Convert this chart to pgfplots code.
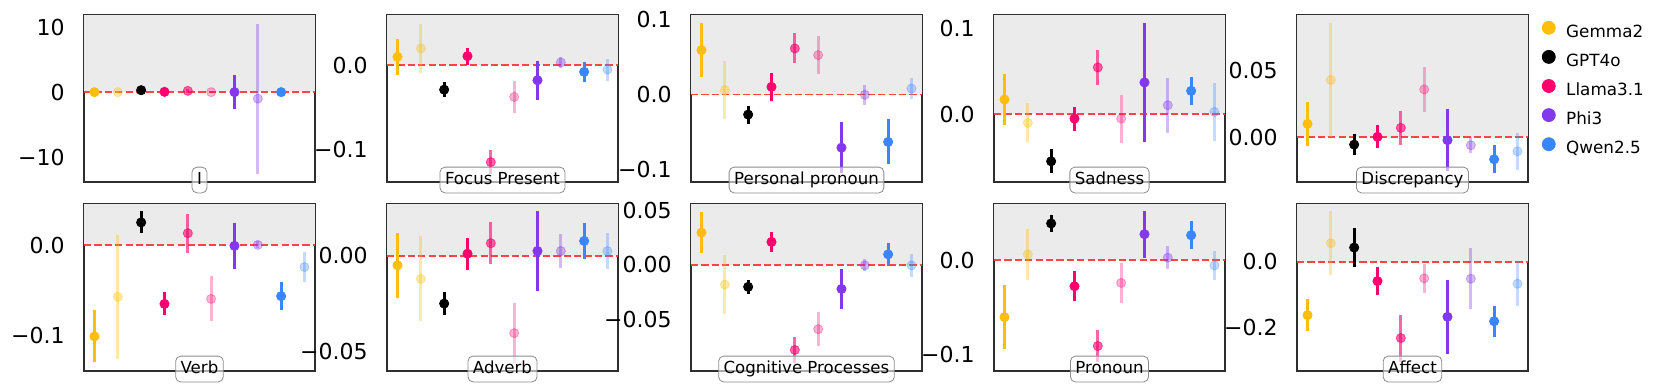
\documentclass[border=0pt]{standalone}
\usepackage{pgfplots}
\pgfplotsset{compat=1.18}
\usepackage{fontspec}
\setmainfont{DejaVu Sans}

\definecolor{gemma}{HTML}{FFBE0B}
\definecolor{gpt}{HTML}{000000}
\definecolor{llama}{HTML}{FF006E}
\definecolor{phi}{HTML}{8338EC}
\definecolor{qwen}{HTML}{3A86FF}
\definecolor{bggray}{HTML}{EBEBEB}
\definecolor{zeroline}{HTML}{FF4545}

\pgfplotsset{
  panel/.style={
    scale only axis, width=115.5pt, height=83.5pt, anchor=south west,
    xmin=-0.45, xmax=9.45, xtick=\empty,
    axis line style={line width=1.25pt, black!82},
    major tick length=0pt, scaled y ticks=false,
    yticklabel style={font=\fontsize{11}{13}\selectfont, inner sep=0pt, xshift=-9.5pt},
  },
  dot/.style 2 args={
    forget plot, only marks, mark=*, mark size=2.3pt, color=#1, opacity=#2,
    error bars/y dir=both, error bars/y explicit, error bars/error mark=none,
    error bars/error bar style={line width=1.4pt, color=#1, opacity=#2},
  },
}
\tikzset{lbl/.style={draw=black!45, rounded corners=2.5pt, fill=white, fill opacity=0.6,
  text opacity=1, inner xsep=2.5pt, inner ysep=2.6pt, text height=6.1pt, text depth=1.6pt,
  font=\fontsize{8.3}{10}\selectfont, yshift=1pt}}
\newcommand{\zero}{%
  \fill[bggray] (axis cs:-0.45,0) rectangle (rel axis cs:1,1);
  \draw[zeroline, line width=0.9pt, dash pattern=on 3.6pt off 1.6pt]
    (axis cs:-0.45,0) -- (axis cs:9.45,0);}

\begin{document}
\begin{tikzpicture}
\useasboundingbox (0,0) rectangle (830pt,193.5pt);

% ---------- top row ----------
\begin{axis}[panel, name=p1, at={(42pt,102.5pt)}, ymin=-13.8, ymax=11.85,
  ytick={-10,0,10}, yticklabels={−10,0,10}]
\zero
\addplot[dot={gemma}{1}]    coordinates {(0,0) +- (0,0.2)};
\addplot[dot={gemma}{0.35}] coordinates {(1,0) +- (0,0.2)};
\addplot[dot={gpt}{1}]      coordinates {(2,0.3) +- (0,0.2)};
\addplot[dot={llama}{1}]    coordinates {(3,0.05) +- (0,0.2)};
\addplot[dot={llama}{0.6}]  coordinates {(4,0.2) +- (0,0.3)};
\addplot[dot={llama}{0.3}]  coordinates {(5,0) +- (0,0.2)};
\addplot[dot={phi}{1}]      coordinates {(6,0) +- (0,2.6)};
\addplot[dot={phi}{0.35}]   coordinates {(7,-1.0) +- (0,11.5)};
\addplot[dot={qwen}{1}]     coordinates {(8,0) +- (0,0.2)};
\end{axis}
\node[lbl] at (p1.south) {I};

\begin{axis}[panel, name=p2, at={(193.5pt,102.5pt)}, ymin=-0.138, ymax=0.0593,
  ytick={-0.1,0}, yticklabels={−0.1,0.0}]
\zero
\addplot[dot={gemma}{1}]    coordinates {(0,0.0099) +- (0,0.021)};
\addplot[dot={gemma}{0.35}] coordinates {(1,0.0198) +- (0,0.029)};
\addplot[dot={gpt}{1}]      coordinates {(2,-0.0289) +- (0,0.009)};
\addplot[dot={llama}{1}]    coordinates {(3,0.0107) +- (0,0.010)};
\addplot[dot={llama}{0.6}]  coordinates {(4,-0.1146) +- (0,0.014)};
\addplot[dot={llama}{0.3}]  coordinates {(5,-0.0375) +- (0,0.019)};
\addplot[dot={phi}{1}]      coordinates {(6,-0.0178) +- (0,0.023)};
\addplot[dot={phi}{0.35}]   coordinates {(7,0.0032) +- (0,0.007)};
\addplot[dot={qwen}{1}]     coordinates {(8,-0.0079) +- (0,0.012)};
\addplot[dot={qwen}{0.3}]   coordinates {(9,-0.0051) +- (0,0.013)};
\end{axis}
\node[lbl] at (p2.south) {Focus Present};

\begin{axis}[panel, name=p3, at={(345.5pt,102.5pt)}, ymin=-0.1164, ymax=0.1058,
  ytick={-0.1,0,0.1}, yticklabels={−0.1,0.0,0.1}]
\zero
\addplot[dot={gemma}{1}]    coordinates {(0,0.0591) +- (0,0.036)};
\addplot[dot={gemma}{0.35}] coordinates {(1,0.0058) +- (0,0.039)};
\addplot[dot={gpt}{1}]      coordinates {(2,-0.0267) +- (0,0.012)};
\addplot[dot={llama}{1}]    coordinates {(3,0.0102) +- (0,0.019)};
\addplot[dot={llama}{0.6}]  coordinates {(4,0.0613) +- (0,0.020)};
\addplot[dot={llama}{0.3}]  coordinates {(5,0.0524) +- (0,0.025)};
\addplot[dot={phi}{1}]      coordinates {(6,-0.0707) +- (0,0.034)};
\addplot[dot={phi}{0.35}]   coordinates {(7,-0.0004) +- (0,0.013)};
\addplot[dot={qwen}{1}]     coordinates {(8,-0.0631) +- (0,0.030)};
\addplot[dot={qwen}{0.3}]   coordinates {(9,0.0080) +- (0,0.014)};
\end{axis}
\node[lbl] at (p3.south) {Personal pronoun};

\begin{axis}[panel, name=p4, at={(497pt,102.5pt)}, ymin=-0.079, ymax=0.1156,
  ytick={0,0.1}, yticklabels={0.0,0.1}]
\zero
\addplot[dot={gemma}{1}]    coordinates {(0,0.0171) +- (0,0.030)};
\addplot[dot={gemma}{0.35}] coordinates {(1,-0.0101) +- (0,0.0226)};
\addplot[dot={gpt}{1}]      coordinates {(2,-0.0549) +- (0,0.014)};
\addplot[dot={llama}{1}]    coordinates {(3,-0.0051) +- (0,0.014)};
\addplot[dot={llama}{0.6}]  coordinates {(4,0.0545) +- (0,0.020)};
\addplot[dot={llama}{0.3}]  coordinates {(5,-0.0051) +- (0,0.028)};
\addplot[dot={phi}{1}]      coordinates {(6,0.0370) +- (0,0.069)};
\addplot[dot={phi}{0.35}]   coordinates {(7,0.0105) +- (0,0.032)};
\addplot[dot={qwen}{1}]     coordinates {(8,0.0272) +- (0,0.0165)};
\addplot[dot={qwen}{0.3}]   coordinates {(9,0.0027) +- (0,0.034)};
\end{axis}
\node[lbl] at (p4.south) {Sadness};

\begin{axis}[panel, name=p5, at={(648.5pt,102.5pt)}, ymin=-0.0335, ymax=0.0915,
  ytick={0,0.05}, yticklabels={0.00,0.05},
  legend style={at={(1,1)}, anchor=north west, xshift=6.75pt, yshift=-2.75pt,
    draw=none, fill=none, inner sep=0pt, font=\fontsize{8.4}{10}\selectfont,
    row sep=5pt, column sep=5.25pt,
    nodes={inner sep=0pt, text height=6.1pt, text depth=1.4pt}},
  legend cell align=left,
  legend image code/.code={\fill (0pt,2.35pt) circle (3.25pt);}]
\zero
\addplot[dot={gemma}{1}]    coordinates {(0,0.0100) +- (0,0.0166)};
\addplot[dot={gemma}{0.35}] coordinates {(1,0.0428) +- (0,0.0425)};
\addplot[dot={gpt}{1}]      coordinates {(2,-0.0055) +- (0,0.008)};
\addplot[dot={llama}{1}]    coordinates {(3,0.0003) +- (0,0.0086)};
\addplot[dot={llama}{0.6}]  coordinates {(4,0.0070) +- (0,0.0125)};
\addplot[dot={llama}{0.3}]  coordinates {(5,0.0358) +- (0,0.017)};
\addplot[dot={phi}{1}]      coordinates {(6,-0.0022) +- (0,0.023)};
\addplot[dot={phi}{0.35}]   coordinates {(7,-0.0060) +- (0,0.006)};
\addplot[dot={qwen}{1}]     coordinates {(8,-0.0165) +- (0,0.0106)};
\addplot[dot={qwen}{0.3}]   coordinates {(9,-0.0105) +- (0,0.0138)};
\addlegendimage{gemma}\addlegendentry{Gemma2}
\addlegendimage{gpt}\addlegendentry{GPT4o}
\addlegendimage{llama}\addlegendentry{Llama3.1}
\addlegendimage{phi}\addlegendentry{Phi3}
\addlegendimage{qwen}\addlegendentry{Qwen2.5}
\end{axis}
\node[lbl] at (p5.south) {Discrepancy};

% ---------- bottom row ----------
\begin{axis}[panel, name=p6, at={(42pt,8pt)}, ymin=-0.140, ymax=0.0459,
  ytick={-0.1,0}, yticklabels={−0.1,0.0}]
\zero
\addplot[dot={gemma}{1}]    coordinates {(0,-0.1015) +- (0,0.029)};
\addplot[dot={gemma}{0.35}] coordinates {(1,-0.0575) +- (0,0.069)};
\addplot[dot={gpt}{1}]      coordinates {(2,0.0254) +- (0,0.0123)};
\addplot[dot={llama}{1}]    coordinates {(3,-0.0653) +- (0,0.0127)};
\addplot[dot={llama}{0.6}]  coordinates {(4,0.0134) +- (0,0.0215)};
\addplot[dot={llama}{0.3}]  coordinates {(5,-0.0597) +- (0,0.025)};
\addplot[dot={phi}{1}]      coordinates {(6,-0.0007) +- (0,0.026)};
\addplot[dot={phi}{0.35}]   coordinates {(7,0.0004) +- (0,0.004)};
\addplot[dot={qwen}{1}]     coordinates {(8,-0.0567) +- (0,0.0157)};
\addplot[dot={qwen}{0.3}]   coordinates {(9,-0.0243) +- (0,0.0168)};
\end{axis}
\node[lbl] at (p6.south) {Verb};

\begin{axis}[panel, name=p7, at={(193.5pt,8pt)}, ymin=-0.0604, ymax=0.0273,
  ytick={-0.05,0}, yticklabels={−0.05,0.00}]
\zero
\addplot[dot={gemma}{1}]    coordinates {(0,-0.0049) +- (0,0.017)};
\addplot[dot={gemma}{0.35}] coordinates {(1,-0.0120) +- (0,0.0224)};
\addplot[dot={gpt}{1}]      coordinates {(2,-0.0250) +- (0,0.006)};
\addplot[dot={llama}{1}]    coordinates {(3,0.0012) +- (0,0.0085)};
\addplot[dot={llama}{0.6}]  coordinates {(4,0.0067) +- (0,0.011)};
\addplot[dot={llama}{0.3}]  coordinates {(5,-0.0405) +- (0,0.0156)};
\addplot[dot={phi}{1}]      coordinates {(6,0.0026) +- (0,0.021)};
\addplot[dot={phi}{0.35}]   coordinates {(7,0.0026) +- (0,0.0088)};
\addplot[dot={qwen}{1}]     coordinates {(8,0.0079) +- (0,0.0093)};
\addplot[dot={qwen}{0.3}]   coordinates {(9,0.0026) +- (0,0.0093)};
\end{axis}
\node[lbl] at (p7.south) {Adverb};

\begin{axis}[panel, name=p8, at={(345.5pt,8pt)}, ymin=-0.0975, ymax=0.0557,
  ytick={-0.05,0,0.05}, yticklabels={−0.05,0.00,0.05}]
\zero
\addplot[dot={gemma}{1}]    coordinates {(0,0.0295) +- (0,0.019)};
\addplot[dot={gemma}{0.35}] coordinates {(1,-0.0182) +- (0,0.0268)};
\addplot[dot={gpt}{1}]      coordinates {(2,-0.0203) +- (0,0.0063)};
\addplot[dot={llama}{1}]    coordinates {(3,0.0209) +- (0,0.0088)};
\addplot[dot={llama}{0.6}]  coordinates {(4,-0.0782) +- (0,0.0123)};
\addplot[dot={llama}{0.3}]  coordinates {(5,-0.0591) +- (0,0.0157)};
\addplot[dot={phi}{1}]      coordinates {(6,-0.0222) +- (0,0.018)};
\addplot[dot={phi}{0.35}]   coordinates {(7,-0.0006) +- (0,0.0055)};
\addplot[dot={qwen}{1}]     coordinates {(8,0.0095) +- (0,0.0105)};
\addplot[dot={qwen}{0.3}]   coordinates {(9,-0.0006) +- (0,0.0103)};
\end{axis}
\node[lbl] at (p8.south) {Cognitive Processes};

\begin{axis}[panel, name=p9, at={(497pt,8pt)}, ymin=-0.118, ymax=0.0596,
  ytick={-0.1,0}, yticklabels={−0.1,0.0}]
\zero
\addplot[dot={gemma}{1}]    coordinates {(0,-0.0607) +- (0,0.0337)};
\addplot[dot={gemma}{0.35}] coordinates {(1,0.0061) +- (0,0.027)};
\addplot[dot={gpt}{1}]      coordinates {(2,0.0389) +- (0,0.0093)};
\addplot[dot={llama}{1}]    coordinates {(3,-0.0279) +- (0,0.016)};
\addplot[dot={llama}{0.6}]  coordinates {(4,-0.0914) +- (0,0.0166)};
\addplot[dot={llama}{0.3}]  coordinates {(5,-0.0243) +- (0,0.021)};
\addplot[dot={phi}{1}]      coordinates {(6,0.0275) +- (0,0.025)};
\addplot[dot={phi}{0.35}]   coordinates {(7,0.0025) +- (0,0.012)};
\addplot[dot={qwen}{1}]     coordinates {(8,0.0264) +- (0,0.015)};
\addplot[dot={qwen}{0.3}]   coordinates {(9,-0.0057) +- (0,0.0155)};
\end{axis}
\node[lbl] at (p9.south) {Pronoun};

\begin{axis}[panel, name=p10, at={(648.5pt,8pt)}, ymin=-0.333, ymax=0.1755,
  ytick={-0.2,0}, yticklabels={−0.2,0.0}]
\zero
\addplot[dot={gemma}{1}]    coordinates {(0,-0.1630) +- (0,0.0485)};
\addplot[dot={gemma}{0.35}] coordinates {(1,0.0560) +- (0,0.0975)};
\addplot[dot={gpt}{1}]      coordinates {(2,0.0429) +- (0,0.058)};
\addplot[dot={llama}{1}]    coordinates {(3,-0.0592) +- (0,0.0434)};
\addplot[dot={llama}{0.6}]  coordinates {(4,-0.2327) +- (0,0.0714)};
\addplot[dot={llama}{0.3}]  coordinates {(5,-0.0510) +- (0,0.045)};
\addplot[dot={phi}{1}]      coordinates {(6,-0.1680) +- (0,0.113)};
\addplot[dot={phi}{0.35}]   coordinates {(7,-0.0520) +- (0,0.093)};
\addplot[dot={qwen}{1}]     coordinates {(8,-0.1816) +- (0,0.048)};
\addplot[dot={qwen}{0.3}]   coordinates {(9,-0.0673) +- (0,0.0663)};
\end{axis}
\node[lbl] at (p10.south) {Affect};
\end{tikzpicture}
\end{document}
